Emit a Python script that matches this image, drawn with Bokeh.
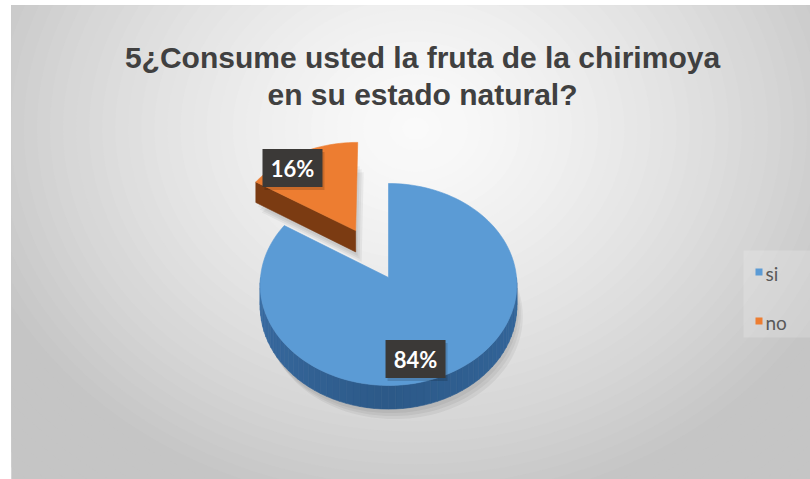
import math
from bokeh.plotting import figure
from bokeh.models import Range1d, ColumnDataSource
from bokeh.embed import file_html
from bokeh.resources import INLINE
from bokeh.core.properties import value

# ---------------- data ----------------
categories = ["si", "no"]
values = [84, 16]
title_lines = ["5¿Consume usted la fruta de la chirimoya", "en su estado natural?"]

# ---------------- style / layout ----------------
TOP_COLORS = ["#5B9BD5", "#ED7D31"]
RIM_COLORS = [("#35689e", "#2c5988", "#3b6ea5"), ("#7a3a10", "#7a3a10", "#7a3a10")]
RADIAL_COLORS = ["#2f5f92", "#7b3b12"]
EXPLODE = [0.0, 0.55]
LABEL_UV = [(0.20, 0.768), (-0.811, -1.178)]   # label anchors in pie-disk coordinates
LABEL_BOX = (60, 38)

W, H = 810, 479
OX, OY = 11, 5            # white strip left / top of the chart area
FW, FH = W - OX, H - OY
CX, CY = 388 - OX, 277 - OY
RX, RY = 128.0, 100.5
K = 0.069
DEPTH = 22.0


def proj(u, v, drop=0.0):
    s = 1.0 / (1.0 - K * v)
    return CX + RX * u * s, CY + RY * v * s + drop * s


def hx(c):
    c = c.lstrip("#")
    return [int(c[i:i + 2], 16) for i in (0, 2, 4)]


def lerp(c1, c2, t):
    a, b = hx(c1), hx(c2)
    return "#%02x%02x%02x" % tuple(int(round(a[i] + (b[i] - a[i]) * t)) for i in range(3))


def grey(d):
    d = min(d, 1.0)
    g = int(round(250 - (250 - 197) * d ** 1.4))
    return "#%02x%02x%02x" % (g, g, g)


p = figure(width=W, height=H, output_backend="svg", toolbar_location=None,
           x_range=Range1d(0, FW), y_range=Range1d(FH, 0),
           min_border_left=OX, min_border_top=OY, min_border_right=0, min_border_bottom=0)
p.axis.visible = False
p.grid.visible = False
p.outline_line_color = None
p.background_fill_color = grey(1.2)
p.border_fill_color = "white"

# background radial gradient
BG_C = (415 - OX, 128 - OY)
BG_R = (470, 390)
N = 45
bx, by, bw, bh, bc = [], [], [], [], []
for i in range(N, 0, -1):
    d = 1.25 * i / N
    bx.append(BG_C[0]); by.append(BG_C[1])
    bw.append(2 * BG_R[0] * d); bh.append(2 * BG_R[1] * d)
    bc.append(grey(d))
p.ellipse(x=bx, y=by, width=bw, height=bh, fill_color=bc, line_color=None)

# ---------------- pie geometry ----------------
total = float(sum(values))
angles = []
a0 = 0.0
for v in values:
    a1 = a0 + 2 * math.pi * v / total
    angles.append((a0, a1))
    a0 = a1

shadow_xs, shadow_ys = [], []
poly_xs, poly_ys, poly_c = [], [], []


def add(poly, color):
    poly_xs.append([q[0] for q in poly])
    poly_ys.append([q[1] for q in poly])
    poly_c.append(color)


order = sorted(range(len(values)), key=lambda i: -math.cos((angles[i][0] + angles[i][1]) / 2) * EXPLODE[i])
for i in order:
    a, b = angles[i]
    m = (a + b) / 2
    ou, ov = EXPLODE[i] * math.sin(m), -EXPLODE[i] * math.cos(m)
    n = max(4, int((b - a) / (2 * math.pi) * 160))
    ths = [a + (b - a) * t / n for t in range(n + 1)]

    def pt(th, drop=0.0, r=1.0):
        return proj(ou + r * math.sin(th), ov - r * math.cos(th), drop)

    top = [proj(ou, ov)] + [pt(t) for t in ths]
    bottom = [proj(ou, ov, DEPTH)] + [pt(t, DEPTH) for t in ths]
    for dx, dy in [(2, 4), (4, 7), (6, 10)]:
        shadow_xs.append([q[0] + dx for q in bottom])
        shadow_ys.append([q[1] + dy for q in bottom])

    if math.sin(a) < -1e-6:
        add([proj(ou, ov), pt(a), pt(a, DEPTH), proj(ou, ov, DEPTH)], RADIAL_COLORS[i])
    if math.sin(b) > 1e-6:
        add([proj(ou, ov), pt(b), pt(b, DEPTH), proj(ou, ov, DEPTH)], RADIAL_COLORS[i])
    lo, hi = max(a, math.pi / 2), min(b, 3 * math.pi / 2)
    if hi > lo:
        nr = 60
        rth = [lo + (hi - lo) * t / nr for t in range(nr + 1)]
        c_r, c_b, c_l = RIM_COLORS[i]
        for j in range(nr):
            t = ((rth[j] + rth[j + 1]) / 2 - math.pi / 2) / math.pi
            col = lerp(c_r, c_b, t * 2) if t < 0.5 else lerp(c_b, c_l, (t - 0.5) * 2)
            add([pt(rth[j]), pt(rth[j + 1]), pt(rth[j + 1], DEPTH), pt(rth[j], DEPTH)], col)
    add(top, TOP_COLORS[i])

p.patches(shadow_xs, shadow_ys, fill_color="black", fill_alpha=0.05, line_color=None)
src = ColumnDataSource(dict(xs=poly_xs, ys=poly_ys, c=poly_c))
p.patches("xs", "ys", source=src, fill_color="c", line_color="c", line_width=0.6)

# ---------------- data labels ----------------
lx, ly, lt = [], [], []
for i, v in enumerate(values):
    x, y = proj(*LABEL_UV[i])
    lx.append(x); ly.append(y); lt.append("%d%%" % v)
p.rect(x=[x + 2 for x in lx], y=[y + 3 for y in ly], width=LABEL_BOX[0], height=LABEL_BOX[1],
       fill_color="black", fill_alpha=0.15, line_color=None)
p.rect(x=lx, y=ly, width=LABEL_BOX[0], height=LABEL_BOX[1], fill_color="#3b3937", line_color=None)
p.text(x=lx, y=ly, text=lt, text_font=value("Lato"), text_font_style="bold",
       text_font_size="22px", text_color="white", text_align="center", text_baseline="middle")

# ---------------- title ----------------
p.text(x=[422 - OX] * 2, y=[57 - OY, 94 - OY], text=title_lines, text_font=value("Liberation Sans"),
       text_font_style="bold", text_font_size="30px", text_color="#404040",
       text_align="center", text_baseline="alphabetic")

# ---------------- legend ----------------
p.rect(x=[776.5 - OX], y=[293.5 - OY], width=67, height=87, fill_color="white", fill_alpha=0.18, line_color=None)
leg_y = [271.5 - OY + 49 * i for i in range(len(categories))]
p.rect(x=[758.5 - OX] * len(categories), y=leg_y, width=7, height=7, fill_color=TOP_COLORS, line_color=None)
p.text(x=[765 - OX] * len(categories), y=[y + 1 for y in leg_y], text=categories, text_font=value("Lato"),
       text_font_size="19px", text_color="#595959", text_align="left", text_baseline="middle")

open("out.html", "w").write(file_html(p, INLINE))
